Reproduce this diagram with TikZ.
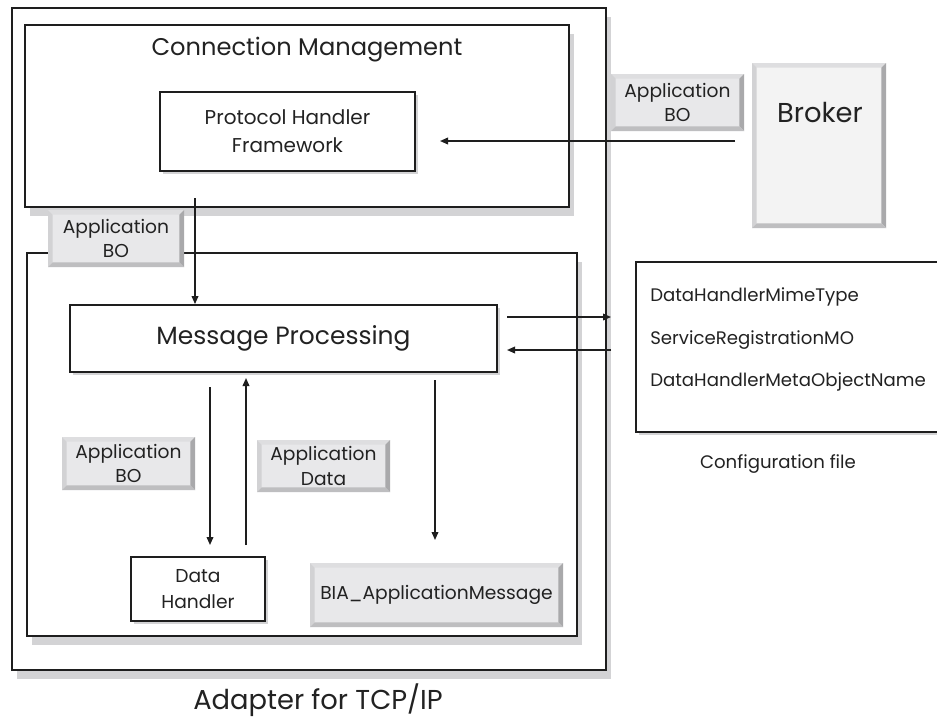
\documentclass[tikz,border=0pt]{standalone}
\usepackage{fontspec}
\setmainfont{Poppins}
\usetikzlibrary{arrows.meta,shadows}
\definecolor{shadowgray}{HTML}{D3D3D5}
\definecolor{btnfill}{HTML}{E8E8EA}
\definecolor{bevtop}{HTML}{DEDEE0}
\definecolor{bevleft}{HTML}{D2D2D4}
\definecolor{bevright}{HTML}{A9A9AB}
\definecolor{bevbot}{HTML}{BEBEC0}
\definecolor{brokerfill}{HTML}{F3F3F3}
\definecolor{linec}{HTML}{1E1E1E}
\definecolor{textc}{HTML}{222222}
\tikzset{
  sz/.style 2 args={minimum width=#1*0.75pt, minimum height=#2*0.75pt},
  frame/.style={draw=linec, line width=1.4pt, fill=white, inner sep=0pt, text=textc},
  bigshadow/.style={drop shadow={shadow xshift=4pt, shadow yshift=-7pt, fill=shadowgray, opacity=1}},
  smallshadow/.style={drop shadow={shadow xshift=2pt, shadow yshift=-2pt, fill=shadowgray, opacity=1}},
  bevel/.style={fill=#1, inner sep=0pt, align=center, text=textc,
    path picture={
      \fill[bevtop] (path picture bounding box.north west) -- (path picture bounding box.north east)
        -- ([shift={(-3.5pt,-3.5pt)}]path picture bounding box.north east)
        -- ([shift={(3.5pt,-3.5pt)}]path picture bounding box.north west) -- cycle;
      \fill[bevleft] (path picture bounding box.north west)
        -- ([shift={(3.5pt,-3.5pt)}]path picture bounding box.north west)
        -- ([shift={(3.5pt,3.5pt)}]path picture bounding box.south west)
        -- (path picture bounding box.south west) -- cycle;
      \fill[bevright] (path picture bounding box.north east) -- (path picture bounding box.south east)
        -- ([shift={(-3.5pt,3.5pt)}]path picture bounding box.south east)
        -- ([shift={(-3.5pt,-3.5pt)}]path picture bounding box.north east) -- cycle;
      \fill[bevbot] (path picture bounding box.south west) -- (path picture bounding box.south east)
        -- ([shift={(-3.5pt,3.5pt)}]path picture bounding box.south east)
        -- ([shift={(3.5pt,3.5pt)}]path picture bounding box.south west) -- cycle;
    }},
  lbl/.style={text=textc, font=\fontsize{14}{18.5}\selectfont, align=center, inner sep=0pt},
  cfglbl/.style={text=textc, font=\fontsize{13.6}{18}\selectfont, inner sep=0pt},
  biglbl/.style={text=textc, font=\fontsize{18.1}{22}\selectfont, inner sep=0pt},
  arr/.style={draw=linec, line width=1.1pt, -{Triangle[length=6pt,width=5pt]}}
}
\begin{document}
\begin{tikzpicture}[x=0.75pt,y=-0.75pt]
\clip (0,0) rectangle (937,719);
\fill[white] (0,0) rectangle (937,719);
% outer adapter box
\node[frame, bigshadow, sz={594}{662}] (adapter) at (309,339) {};
\node[biglbl, font=\fontsize{20.5}{24}\selectfont] (adaptertxt) at (318,700) {Adapter for TCP/IP};
% connection management
\node[frame, bigshadow, sz={544}{182}] (cm) at (297,116) {};
\node[biglbl] (cmtxt) at (307,50) {Connection Management};
\node[frame, smallshadow, sz={255}{79}, font=\fontsize{15}{21}\selectfont, align=center] (phf) at (287.5,131.5) {Protocol Handler\\Framework};
% inner box
\node[frame, bigshadow, sz={550}{383}] (inner) at (302,444.5) {};
\node[frame, smallshadow, sz={427}{67}, font=\fontsize{18.7}{22}\selectfont] (mp) at (283.5,338.5) {Message Processing};
\node[frame, smallshadow, sz={134}{64}, font=\fontsize{14}{19.5}\selectfont, align=center] (dh) at (198,589) {Data\\Handler};
% buttons
\node[bevel=btnfill, sz={136}{57}, lbl] (bo1) at (116,238.5) {Application\\BO};
\node[bevel=btnfill, sz={133}{57}, lbl] (bo2) at (677.5,102.5) {Application\\BO};
\node[bevel=btnfill, sz={133}{53}, lbl] (bo3) at (128.5,463.5) {Application\\BO};
\node[bevel=btnfill, sz={133}{52}, lbl] (ad) at (323.5,466) {Application\\Data};
\node[bevel=btnfill, sz={253}{64}, lbl] (bia) at (436.5,595) {BIA\_ApplicationMessage};
% broker
\node[bevel=brokerfill, sz={134}{165}] (broker) at (819,145.5) {};
\node[biglbl, font=\fontsize{20.5}{24}\selectfont] (brokertxt) at (820,113) {Broker};
% configuration file
\node[frame, smallshadow, sz={324}{170}] (cfg) at (798,347) {};
\node[cfglbl, anchor=west] (c1) at (650,297) {DataHandlerMimeType};
\node[cfglbl, anchor=west] (c2) at (650,340) {ServiceRegistrationMO};
\node[cfglbl, anchor=west] (c3) at (650,382) {DataHandlerMetaObjectName};
\node[cfglbl] (cfgtxt) at (778,464) {Configuration file};
% connectors
\coordinate (a1s) at (735,141);
\coordinate (a1e) at (440,141);
\draw[arr] (a1s) -- (a1e);
\coordinate (a2s) at (195,198);
\draw[arr] (a2s) -- (a2s |- mp.north);
\coordinate (a3s) at (507,317);
\coordinate (a3e) at (611,317);
\draw[arr] (a3s) -- (a3e);
\coordinate (a4s) at (611,350);
\coordinate (a4e) at (507,350);
\draw[arr] (a4s) -- (a4e);
\coordinate (a5s) at (210,387);
\coordinate (a5e) at (210,545);
\draw[arr] (a5s) -- (a5e);
\coordinate (a6s) at (246,545);
\coordinate (a6e) at (246,378);
\draw[arr] (a6s) -- (a6e);
\coordinate (a7s) at (435,380);
\coordinate (a7e) at (435,540);
\draw[arr] (a7s) -- (a7e);
\end{tikzpicture}
\end{document}
